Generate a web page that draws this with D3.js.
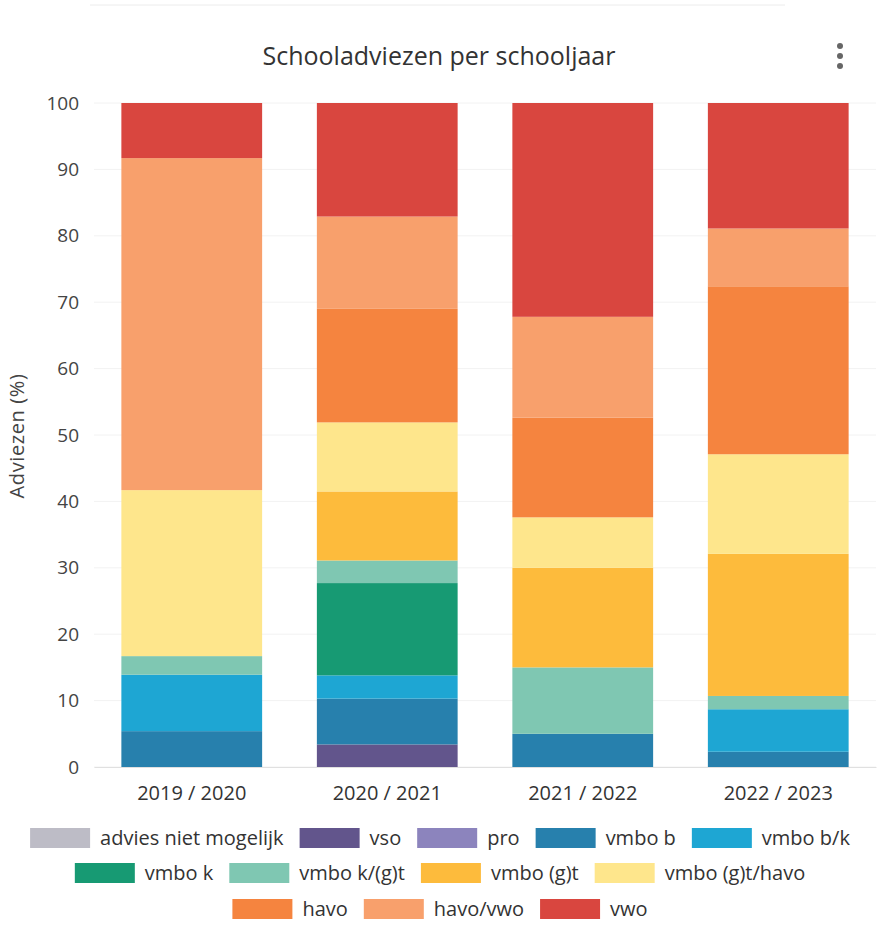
<!DOCTYPE html>
<html><head><meta charset="utf-8">
<script src="https://cdn.jsdelivr.net/npm/d3@7"></script>
<style>body{margin:0;background:#fff}svg{display:block}</style>
</head><body><svg id="c" width="877" height="946"></svg>
<script>
const years = ["2019 / 2020", "2020 / 2021", "2021 / 2022", "2022 / 2023"];
const seriesNames = ["advies niet mogelijk","vso","pro","vmbo b","vmbo b/k","vmbo k","vmbo k/(g)t","vmbo (g)t","vmbo (g)t/havo","havo","havo/vwo","vwo"];
const seriesColors = ["#bdbcc6","#62558c","#8c84bd","#2780ad","#1ea6d3","#179a73","#7fc7b2","#fdbb3c","#fee68c","#f5843f","#f8a06c","#d9463f"];
// values per series, one per school year (%)
const adviesNietMogelijk = [0, 0, 0, 0];
const vso = [0, 3.4, 0, 0];
const pro = [0, 0, 0, 0];
const vmboB = [5.4, 6.9, 5.0, 2.3];
const vmboBK = [8.5, 3.5, 0, 6.4];
const vmboK = [0, 13.9, 0, 0];
const vmboKGT = [2.8, 3.4, 10.0, 2.0];
const vmboGT = [0, 10.4, 15.0, 21.4];
const vmboGTHavo = [25.0, 10.4, 7.6, 15.0];
const havo = [0, 17.1, 15.0, 25.3];
const havoVwo = [50.0, 13.9, 15.2, 8.7];
const vwo = [8.3, 17.1, 32.2, 18.9];
const yTicks = [0,10,20,30,40,50,60,70,80,90,100];

const seriesValues = [adviesNietMogelijk,vso,pro,vmboB,vmboBK,vmboK,vmboKGT,vmboGT,vmboGTHavo,havo,havoVwo,vwo];
const rows = years.map((y,i)=>{const r={year:y}; seriesNames.forEach((s,j)=>r[s]=seriesValues[j][i]); return r;});
const stack = d3.stack().keys(seriesNames)(rows);

const svg = d3.select("#c");
const font = "'Open Sans', sans-serif";
const m = {left:94, right:876, top:103, bottom:767};
const x = d3.scaleBand().domain(years).range([m.left, m.right]).paddingInner(0.28).paddingOuter(0.14);
const y = d3.scaleLinear().domain([0,100]).range([m.bottom, m.top]);

// card top line
svg.append("line").attr("x1",90).attr("x2",785).attr("y1",5).attr("y2",5).attr("stroke","#ececec");

// gridlines
svg.append("g").selectAll("line").data(yTicks).join("line")
  .attr("x1",m.left).attr("x2",m.right).attr("y1",d=>y(d)).attr("y2",d=>y(d))
  .attr("stroke","#f2f2f2").attr("stroke-width",1);

// bars
svg.append("g").selectAll("g").data(stack).join("g").attr("fill",(d,i)=>seriesColors[i])
  .selectAll("rect").data(d=>d).join("rect")
  .attr("x",d=>x(d.data.year)).attr("width",x.bandwidth())
  .attr("y",d=>y(d[1])).attr("height",d=>y(d[0])-y(d[1]));

// y axis
const ya = svg.append("g").attr("transform",`translate(${m.left},0)`)
  .call(d3.axisLeft(y).tickValues(yTicks).tickSize(0).tickPadding(15));
ya.select(".domain").remove();
ya.selectAll("text").attr("font-family",font).attr("font-size",19).attr("fill","#444");

// x axis
const xa = svg.append("g").attr("transform",`translate(0,${m.bottom})`)
  .call(d3.axisBottom(x).tickSize(0).tickPadding(19));
xa.select(".domain").attr("stroke","#e0e0e0");
xa.selectAll("text").attr("font-family",font).attr("font-size",20).attr("fill","#333");

// y title
svg.append("text").attr("transform","translate(24,436) rotate(-90)").attr("text-anchor","middle")
  .attr("font-family",font).attr("font-size",20).attr("letter-spacing",0.6).attr("fill","#444").text("Adviezen (%)");

// title
svg.append("text").attr("x",439).attr("y",65).attr("text-anchor","middle")
  .attr("font-family",font).attr("font-size",25).attr("fill","#333").text("Schooladviezen per schooljaar");

// menu dots
svg.append("g").selectAll("circle").data([46,56,66]).join("circle")
  .attr("cx",840).attr("cy",d=>d).attr("r",3).attr("fill","#666");

// legend with flow layout
const lg = svg.append("g");
const sw = 60, sh = 20, gap = 10, itemDist = 16, maxW = 840, rowY = [838,873,909];
const items = seriesNames.map((s,i)=>{
  const g = lg.append("g");
  g.append("rect").attr("width",sw).attr("height",sh).attr("y",-sh/2).attr("fill",seriesColors[i]);
  const t = g.append("text").attr("x",sw+gap).attr("dy","0.35em").attr("font-family",font)
    .attr("font-size",20).attr("fill","#333").text(s);
  return {g, w: sw+gap+t.node().getComputedTextLength()};
});
let lines=[[]], cur=0;
items.forEach(it=>{
  const ln = lines[lines.length-1];
  const add = (ln.length? itemDist:0) + it.w;
  if (cur + add > maxW && ln.length){ lines.push([it]); cur=it.w; }
  else { ln.push(it); cur+=add; }
});
lines.forEach((ln,r)=>{
  const tot = d3.sum(ln,d=>d.w)+itemDist*(ln.length-1);
  let xx = 440 - tot/2;
  ln.forEach(it=>{ it.g.attr("transform",`translate(${xx},${rowY[r]})`); xx+=it.w+itemDist; });
});
</script></body></html>
